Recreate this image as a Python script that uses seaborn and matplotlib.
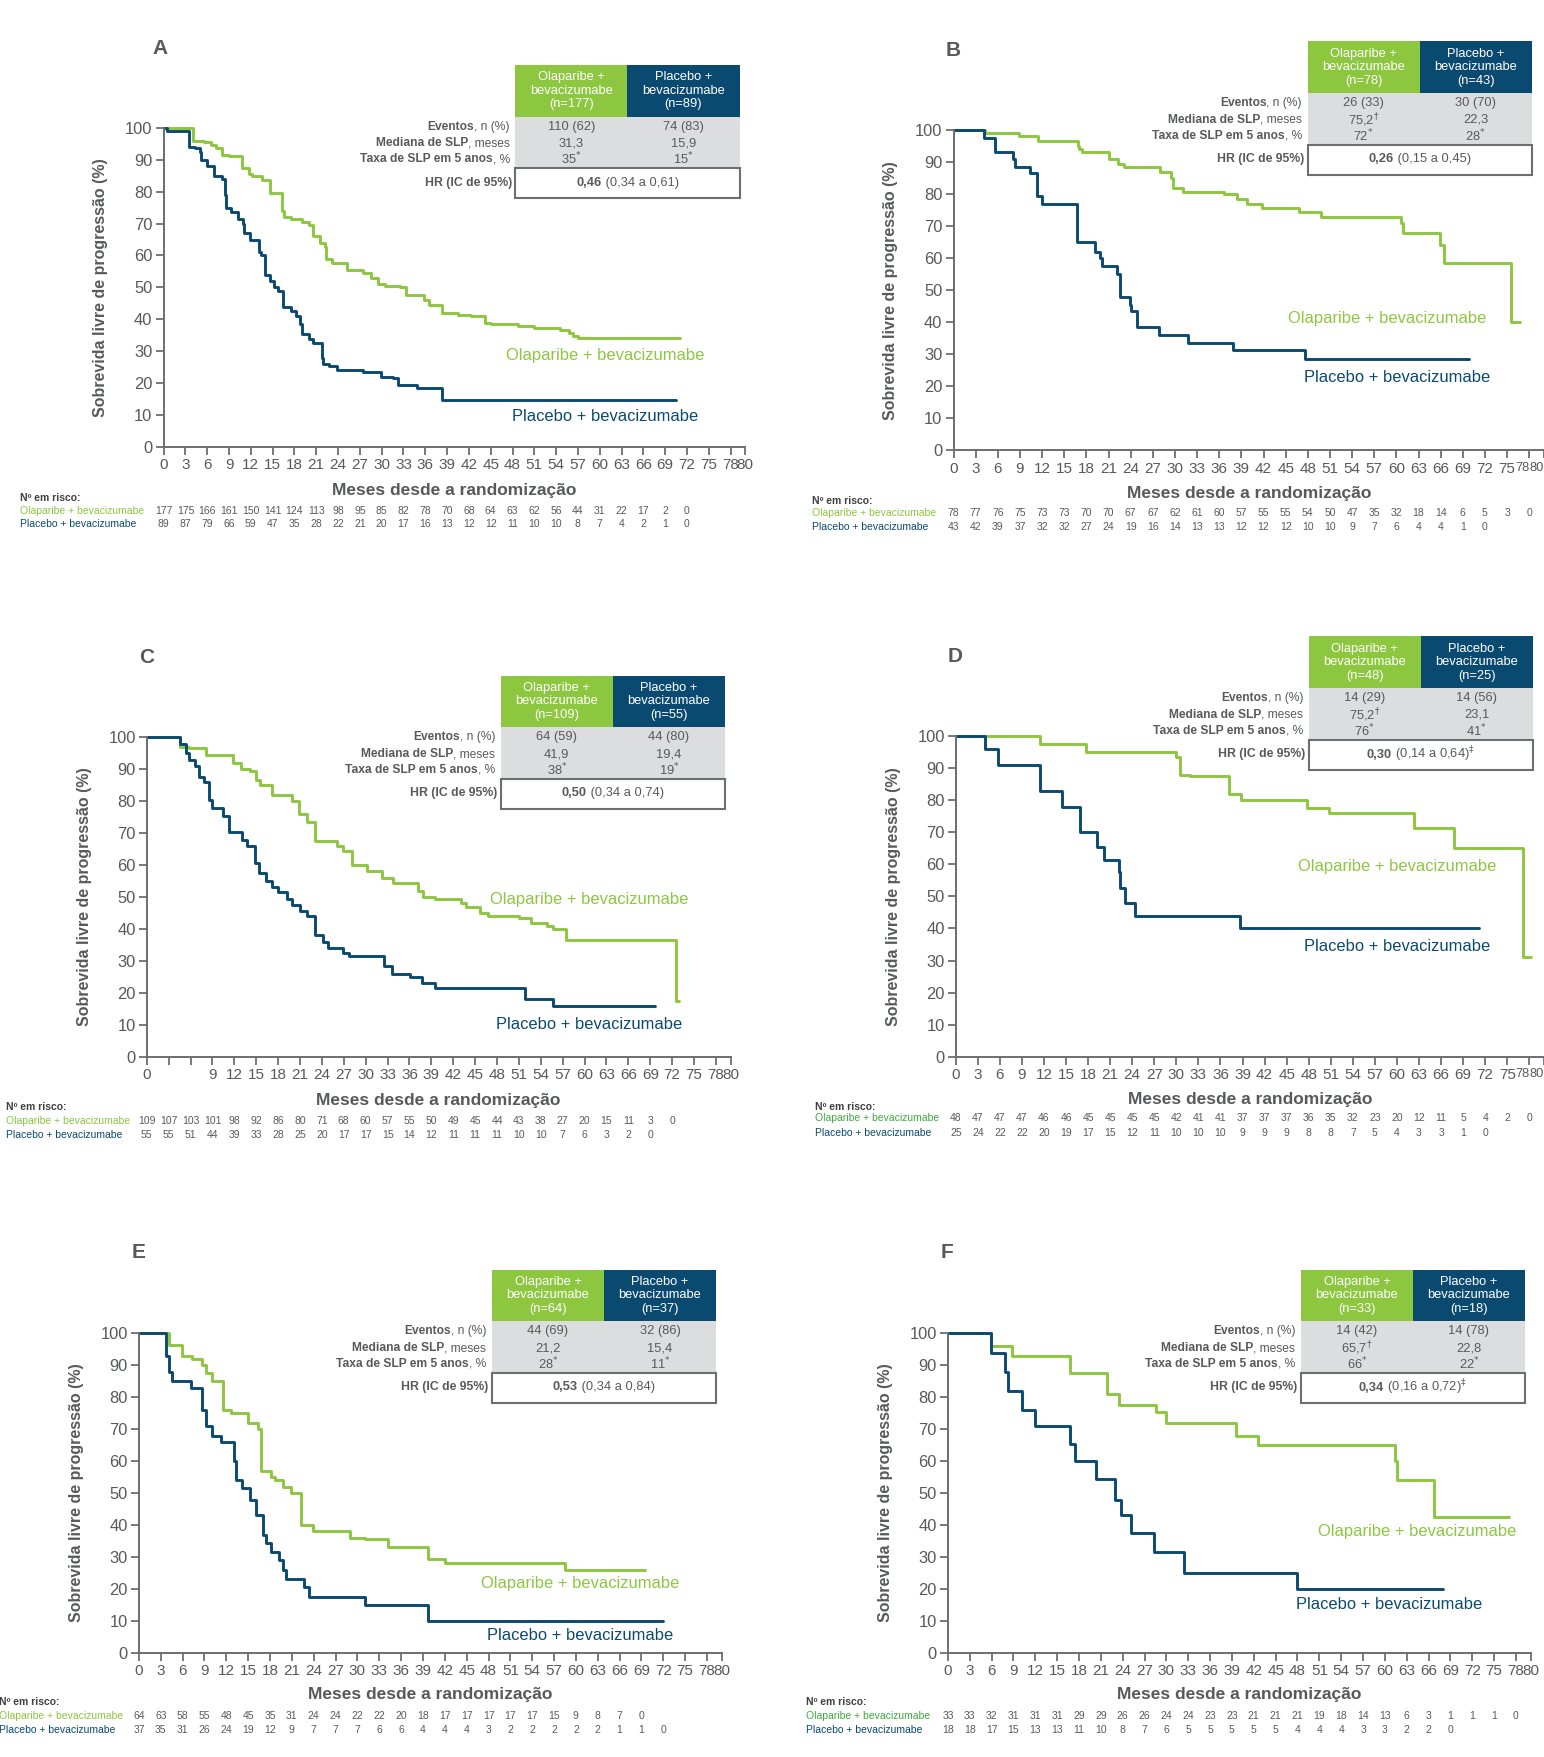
import matplotlib
matplotlib.use("Agg")
import matplotlib.pyplot as plt
import seaborn as sns
from matplotlib import font_manager
from matplotlib.patches import Rectangle
from matplotlib.transforms import blended_transform_factory
from matplotlib.offsetbox import TextArea, HPacker, AnnotationBbox

# ---- curves (months, % progression-free) ----
a_ola_t = [0, 4.0, 5.5, 6.5, 7.2, 8.0, 9.0, 10.8, 11.8, 12.2, 13.5, 14.7, 16.3, 16.5, 17.5, 19.0, 20.0, 20.5, 21.5, 22.2, 22.4, 23.2, 25.3, 27.5, 28.5, 29.5, 30.5, 32.5, 33.3, 35.8, 36.5, 38.3, 40.5, 42.3, 44.2, 45.0, 48.8, 51.0, 54.5, 55.8, 56.3, 57.0, 71.0]
a_ola_s = [100, 96, 95.5, 94.5, 93.5, 91.5, 91, 87.5, 85.5, 85, 83.5, 79.5, 74, 72, 71.5, 70.5, 69.5, 66, 64, 62.5, 59, 57.5, 55.5, 54.5, 53, 51, 50.5, 50, 47.5, 46, 44.5, 42, 41.5, 41, 39, 38.5, 37.8, 37.3, 36.8, 35.8, 34.8, 34.2, 34.2]
a_pla_t = [0, 0.5, 3.5, 4.3, 5.0, 5.2, 6.0, 6.9, 8.1, 8.4, 8.6, 9.3, 10.3, 10.9, 11.0, 11.9, 13.1, 13.4, 13.9, 14.6, 15.2, 15.7, 16.4, 17.5, 18.2, 18.7, 19.1, 20.0, 20.5, 21.8, 21.9, 22.7, 23.9, 27.5, 29.9, 31.6, 32.2, 34.9, 38.3, 70.5]
a_pla_s = [100, 99, 94, 93.5, 92.5, 90, 88, 85, 84, 79, 75, 73.5, 71.5, 70, 67, 65, 61, 60, 54, 52, 50, 49, 44, 42.5, 41, 38.5, 35.5, 34, 32.5, 28, 26, 25.5, 24, 23.5, 22, 21.5, 19.5, 18.5, 14.8, 14.8]

b_ola_t = [0, 4.3, 8.9, 11.4, 16.8, 17.0, 17.4, 21.1, 22.3, 23.1, 28.0, 29.5, 29.7, 31.1, 36.6, 38.4, 39.7, 41.8, 46.8, 49.8, 60.6, 60.9, 65.9, 66.4, 75.5, 76.7]
b_ola_s = [100, 99, 98, 96.5, 95, 94, 93, 91, 89.5, 88.5, 87, 85, 82, 80.5, 80, 78.5, 77, 75.5, 74.5, 73, 71, 68, 64, 58.5, 40, 40]
b_pla_t = [0, 4.1, 5.6, 8.0, 8.3, 10.4, 11.3, 12.0, 16.7, 19.2, 19.8, 20.1, 22.2, 22.5, 23.9, 24.1, 24.8, 27.8, 31.8, 37.9, 47.6, 69.8]
b_pla_s = [100, 97.5, 93, 91, 88.5, 86.5, 79.5, 77, 65, 62, 60, 57.5, 55, 48, 45.5, 43.5, 38.5, 36, 33.5, 31.5, 28.5, 28.5]

c_ola_t = [0, 4.5, 5.8, 8.1, 11.8, 12.9, 14.2, 15.0, 15.5, 17.2, 19.9, 20.9, 22.0, 23.1, 26.1, 26.9, 28.1, 30.2, 32.2, 33.8, 37.2, 37.9, 39.5, 43.1, 43.8, 45.6, 46.8, 51.0, 52.7, 54.9, 55.7, 57.4, 72.5, 72.9]
c_ola_s = [100, 97, 96.5, 94.5, 92, 90, 89.5, 86.5, 85, 82, 80, 76, 73.5, 67.5, 66, 64.5, 60, 58, 56, 54.5, 52, 50, 49.5, 48, 47, 45, 44, 43.5, 42, 41, 40, 36.5, 17.5, 17.5]
c_pla_t = [0, 4.5, 5.4, 5.8, 6.6, 7.1, 7.9, 8.5, 9.0, 10.4, 11.3, 13.1, 13.8, 14.8, 15.4, 16.4, 17.2, 18.0, 19.2, 19.9, 21.0, 22.0, 23.0, 24.1, 24.8, 26.9, 27.7, 32.5, 33.6, 36.1, 37.7, 39.5, 51.8, 55.7, 69.7]
c_pla_s = [100, 98, 95, 93, 91, 87.5, 86, 80.5, 78, 75.5, 70.5, 68, 66, 60.5, 57.5, 55, 53, 51.5, 49.5, 47.5, 45.5, 44, 38, 36, 34, 32.5, 31.5, 28.5, 26, 25, 23, 21.5, 18, 16, 16]

d_ola_t = [0, 11.4, 17.7, 29.9, 30.5, 31.8, 37.2, 38.8, 47.8, 50.8, 62.3, 67.7, 77.1, 78.3]
d_ola_s = [100, 97.5, 95, 93.5, 88, 87.5, 82, 80, 77.5, 76, 71.5, 65, 31, 31]
d_pla_t = [0, 4.0, 5.7, 11.4, 14.5, 16.9, 19.2, 20.1, 22.2, 22.4, 23.0, 24.4, 38.7, 71.1]
d_pla_s = [100, 96, 91, 83, 78, 70, 65.5, 61.5, 57.5, 52.5, 48, 44, 40, 40]

e_ola_t = [0, 4.1, 5.9, 7.3, 8.6, 9.2, 10.0, 11.6, 12.7, 15.0, 16.4, 16.8, 18.1, 18.7, 19.8, 20.9, 22.2, 23.9, 29.0, 31.1, 34.2, 39.7, 42.0, 58.5, 69.5]
e_ola_s = [100, 96.5, 93, 92, 90, 87.5, 85, 76, 75, 72, 70, 57, 55, 54, 52, 50, 40, 38, 36, 35.5, 33, 29.5, 28, 26, 26]
e_pla_t = [0, 3.7, 4.1, 4.5, 7.1, 8.6, 9.2, 10.0, 11.2, 13.0, 13.3, 14.1, 15.3, 16.1, 17.1, 17.5, 18.2, 19.2, 19.8, 20.2, 22.6, 23.3, 31.1, 39.7, 72.0]
e_pla_s = [100, 93, 88, 85, 83, 76, 71, 68, 66, 60, 54, 51.5, 48, 43, 37, 34.5, 31.5, 29, 26, 23, 20.5, 17.5, 15, 9.8, 9.8]

f_ola_t = [0, 5.9, 8.8, 16.7, 21.8, 23.5, 28.6, 29.9, 39.6, 42.6, 61.4, 61.6, 66.7, 77.0]
f_ola_s = [100, 96, 93, 87.5, 81, 77.5, 75.5, 72, 68, 65, 60, 54, 42.5, 42.5]
f_pla_t = [0, 5.9, 7.9, 8.3, 10.2, 12.0, 16.7, 17.4, 20.4, 22.9, 23.8, 25.2, 28.3, 32.4, 48.0, 68.0]
f_pla_s = [100, 94, 88, 82, 76, 71, 65.5, 60, 54.5, 48, 43, 37.5, 31.5, 25, 20, 20]

# ---- numbers at risk (every 3 months) ----
a_risk_ola = [177, 175, 166, 161, 150, 141, 124, 113, 98, 95, 85, 82, 78, 70, 68, 64, 63, 62, 56, 44, 31, 22, 17, 2, 0]
a_risk_pla = [89, 87, 79, 66, 59, 47, 35, 28, 22, 21, 20, 17, 16, 13, 12, 12, 11, 10, 10, 8, 7, 4, 2, 1, 0]
b_risk_ola = [78, 77, 76, 75, 73, 73, 70, 70, 67, 67, 62, 61, 60, 57, 55, 55, 54, 50, 47, 35, 32, 18, 14, 6, 5, 3, 0]
b_risk_pla = [43, 42, 39, 37, 32, 32, 27, 24, 19, 16, 14, 13, 13, 12, 12, 12, 10, 10, 9, 7, 6, 4, 4, 1, 0]
c_risk_ola = [109, 107, 103, 101, 98, 92, 86, 80, 71, 68, 60, 57, 55, 50, 49, 45, 44, 43, 38, 27, 20, 15, 11, 3, 0]
c_risk_pla = [55, 55, 51, 44, 39, 33, 28, 25, 20, 17, 17, 15, 14, 12, 11, 11, 11, 10, 10, 7, 6, 3, 2, 0]
d_risk_ola = [48, 47, 47, 47, 46, 46, 45, 45, 45, 45, 42, 41, 41, 37, 37, 37, 36, 35, 32, 23, 20, 12, 11, 5, 4, 2, 0]
d_risk_pla = [25, 24, 22, 22, 20, 19, 17, 15, 12, 11, 10, 10, 10, 9, 9, 9, 8, 8, 7, 5, 4, 3, 3, 1, 0]
e_risk_ola = [64, 63, 58, 55, 48, 45, 35, 31, 24, 24, 22, 22, 20, 18, 17, 17, 17, 17, 17, 15, 9, 8, 7, 0]
e_risk_pla = [37, 35, 31, 26, 24, 19, 12, 9, 7, 7, 7, 6, 6, 4, 4, 4, 3, 2, 2, 2, 2, 2, 1, 1, 0]
f_risk_ola = [33, 33, 32, 31, 31, 31, 29, 29, 26, 26, 24, 24, 23, 23, 21, 21, 21, 19, 18, 14, 13, 6, 3, 1, 1, 1, 0]
f_risk_pla = [18, 18, 17, 15, 13, 13, 11, 10, 8, 7, 6, 5, 5, 5, 5, 5, 4, 4, 4, 3, 3, 2, 2, 0]

# ---- summary tables ----
n_ola = ["177", "78", "109", "48", "64", "33"]
n_pla = ["89", "43", "55", "25", "37", "18"]
ev_ola = ["110 (62)", "26 (33)", "64 (59)", "14 (29)", "44 (69)", "14 (42)"]
ev_pla = ["74 (83)", "30 (70)", "44 (80)", "14 (56)", "32 (86)", "14 (78)"]
med_ola = ["31,3", r"75,2$^{\dagger}$", "41,9", r"75,2$^{\dagger}$", "21,2", r"65,7$^{\dagger}$"]
med_pla = ["15,9", "22,3", "19,4", "23,1", "15,4", "22,8"]
rate_ola = ["35", "72", "38", "76", "28", "66"]
rate_pla = ["15", "28", "19", "41", "11", "22"]
hr_val = ["0,46", "0,26", "0,50", "0,30", "0,53", "0,34"]
hr_ci = [" (0,34 a 0,61)", " (0,15 a 0,45)", " (0,34 a 0,74)", r" (0,14 a 0,64)$^{\ddagger}$", " (0,34 a 0,84)", r" (0,16 a 0,72)$^{\ddagger}$"]

GREEN = "#8DC63F"
GREEN2 = "#3DAA3A"
NAVY = "#0B4A70"
TXT = "#58595B"
SPINE = "#6D6E71"
GRAY = "#DCDDDE"

sns.set_style("ticks")
names = {f.name for f in font_manager.fontManager.ttflist}
NARROW = "Liberation Sans Narrow" if "Liberation Sans Narrow" in names else "Liberation Sans"
PLAIN = "Liberation Sans"
k = 1.0 if NARROW == "Liberation Sans Narrow" else 0.88
plt.rcParams["font.family"] = [NARROW, "DejaVu Sans"]
plt.rcParams["mathtext.fontset"] = "dejavusans"

# layout frame: positions below are in a 1378 x 1568 grid
W, H = 1378.0, 1568.0
def fx(x):
    return x / W
def fy(y):
    return 1 - y / H

fig = plt.figure(figsize=(15.44, 17.57), dpi=100)

panels = [
    dict(letter="A", ax=(146, 665, 114, 399), lpos=(143, 43), tab=(460, 58), xl=438,
         nr=(18, 444, 456, 468), glab=(60.7, 28.8), nlab=(60.7, 9.5), rg=GREEN,
         ola=(a_ola_t, a_ola_s), pla=(a_pla_t, a_pla_s), risk=(a_risk_ola, a_risk_pla)),
    dict(letter="B", ax=(851, 1378, 116, 402), lpos=(851, 45), tab=(1167, 37), xl=440,
         nr=(725, 447, 458, 470), glab=(58.7, 41.3), nlab=(60.1, 22.7), rg=GREEN,
         ola=(b_ola_t, b_ola_s), pla=(b_pla_t, b_pla_s), risk=(b_risk_ola, b_risk_pla)),
    dict(letter="C", ax=(131, 652, 658, 943), lpos=(131, 587), tab=(447, 603), xl=982,
         nr=(5, 988, 1000, 1013), glab=(60.6, 49.1), nlab=(60.6, 10.2), rg=GREEN,
         ola=(c_ola_t, c_ola_s), pla=(c_pla_t, c_pla_s), risk=(c_risk_ola, c_risk_pla)),
    dict(letter="D", ax=(853, 1378, 657, 943), lpos=(852, 586), tab=(1168, 568), xl=981,
         nr=(727, 988, 998, 1011), glab=(60.0, 59.4), nlab=(60.0, 34.3), rg=GREEN2,
         ola=(d_ola_t, d_ola_s), pla=(d_pla_t, d_pla_s), risk=(d_risk_ola, d_risk_pla)),
    dict(letter="E", ax=(124, 644, 1190, 1475), lpos=(124, 1118), tab=(439, 1133), xl=1512,
         nr=(-1, 1519, 1531, 1544), glab=(60.6, 21.8), nlab=(60.6, 5.3), rg=GREEN,
         ola=(e_ola_t, e_ola_s), pla=(e_pla_t, e_pla_s), risk=(e_risk_ola, e_risk_pla)),
    dict(letter="F", ax=(846, 1366, 1190, 1475), lpos=(845, 1118), tab=(1161, 1133), xl=1512,
         nr=(719, 1519, 1531, 1544), glab=(64.5, 37.9), nlab=(60.6, 15.1), rg=GREEN2,
         ola=(f_ola_t, f_ola_s), pla=(f_pla_t, f_pla_s), risk=(f_risk_ola, f_risk_pla)),
]

xt = list(range(0, 79, 3)) + [80]


def mixed(parts, x, y, align, size):
    boxes = [TextArea(s, textprops=dict(fontsize=size, color=TXT, fontweight=w, family=f))
             for s, w, f in parts]
    ab = AnnotationBbox(HPacker(children=boxes, align="baseline", pad=0, sep=0),
                        (fx(x), fy(y)), xycoords="figure fraction",
                        box_alignment=(align, 0.5), frameon=False, pad=0)
    fig.add_artist(ab)


for i, p in enumerate(panels):
    x0, x80, y100, y0 = p["ax"]
    ax = fig.add_axes([fx(x0), fy(y0), (x80 - x0) / W, (y0 - y100) / H])
    sns.lineplot(x=p["ola"][0], y=p["ola"][1], ax=ax, color=GREEN, lw=2.1,
                 drawstyle="steps-post", estimator=None, sort=False, clip_on=False)
    sns.lineplot(x=p["pla"][0], y=p["pla"][1], ax=ax, color=NAVY, lw=2.1,
                 drawstyle="steps-post", estimator=None, sort=False, clip_on=False)
    ax.set_xlim(0, 80)
    ax.set_ylim(0, 100)
    ax.set_xticks(xt)
    labs = [str(v) for v in xt]
    if p["letter"] == "C":
        labs[1] = ""
        labs[2] = ""
    ax.set_xticklabels(labs)
    ax.set_yticks(range(0, 101, 10))
    sns.despine(ax=ax)
    for s in ["left", "bottom"]:
        ax.spines[s].set_color(SPINE)
        ax.spines[s].set_linewidth(1.4)
    ax.tick_params(direction="out", length=6, width=1.3, color=SPINE, labelcolor=TXT, pad=2)
    ax.tick_params(axis="x", labelsize=12.5 * k)
    ax.tick_params(axis="y", labelsize=13.5 * k)
    if x80 >= W:
        # last labels sit on the figure edge: pull them inside
        for lab in ax.get_xticklabels()[-2:]:
            lab.set_ha("right")
            lab.set_fontsize(10.5 * k)
    ax.set_ylabel("Sobrevida livre de progressão (%)", family=PLAIN, fontweight="bold",
                  fontsize=11.5, color=TXT, va="center")
    ax.yaxis.set_label_coords(-56 / (x80 - x0), 0.5)
    ax.set_xlabel("Meses desde a randomização", family=PLAIN, fontweight="bold",
                  fontsize=12.5, color=TXT, va="center")
    ax.xaxis.set_label_coords(0.5, (y0 - p["xl"]) / (y0 - y100))

    ax.text(*p["glab"], "Olaparibe + bevacizumabe", color=GREEN, fontsize=13.5 * k,
            ha="center", va="center")
    ax.text(*p["nlab"], "Placebo + bevacizumabe", color=NAVY, fontsize=13.5 * k,
            ha="center", va="center")

    # panel letter
    lx, ly = p["lpos"]
    fig.text(fx(lx), fy(ly), p["letter"], family=PLAIN, fontweight="bold", fontsize=15,
             color=TXT, ha="center", va="center")

    # numbers at risk
    nx, ny, r1, r2 = p["nr"]
    fig.text(fx(nx), fy(ny), "Nº em risco:", family=PLAIN, fontweight="bold", fontsize=7.5,
             color="#404041", va="center")
    fig.text(fx(nx), fy(r1), "Olaparibe + bevacizumabe", color=p["rg"], fontsize=8.5 * k,
             va="center")
    fig.text(fx(nx), fy(r2), "Placebo + bevacizumabe", color=NAVY, fontsize=8.5 * k,
             va="center")
    tr = blended_transform_factory(ax.transData, fig.transFigure)
    for row, yy in zip(p["risk"], (r1, r2)):
        for j, v in enumerate(row):
            ax.text(3 * j, fy(yy), str(v), transform=tr, ha="center", va="center",
                    fontsize=8.5 * k, color=TXT, clip_on=False)

    # summary table
    tx, ty = p["tab"]
    fig.add_artist(Rectangle((fx(tx), fy(ty + 46)), 100 / W, 46 / H, transform=fig.transFigure,
                             facecolor=GREEN, edgecolor="none"))
    fig.add_artist(Rectangle((fx(tx + 100), fy(ty + 46)), 100 / W, 46 / H, transform=fig.transFigure,
                             facecolor=NAVY, edgecolor="none"))
    fig.add_artist(Rectangle((fx(tx), fy(ty + 92)), 200 / W, 46 / H, transform=fig.transFigure,
                             facecolor=GRAY, edgecolor="none"))
    fig.add_artist(Rectangle((fx(tx), fy(ty + 119)), 200 / W, 27 / H, transform=fig.transFigure,
                             facecolor="white", edgecolor=SPINE, lw=1.5))
    fig.text(fx(tx + 50), fy(ty + 23), "Olaparibe +\nbevacizumabe\n(n=%s)" % n_ola[i],
             color="white", fontsize=10.5 * k, ha="center", va="center", linespacing=1.15)
    fig.text(fx(tx + 150), fy(ty + 23), "Placebo +\nbevacizumabe\n(n=%s)" % n_pla[i],
             color="white", fontsize=10.5 * k, ha="center", va="center", linespacing=1.15)
    vals = [(ev_ola[i], ev_pla[i]), (med_ola[i], med_pla[i]),
            (rate_ola[i] + r"$^{*}$", rate_pla[i] + r"$^{*}$")]
    heads = [("Eventos", ", n (%)"), ("Mediana de SLP", ", meses"),
             ("Taxa de SLP em 5 anos", ", %")]
    for (vo, vp), (hb, hr), dy in zip(vals, heads, (55, 70, 84)):
        fig.text(fx(tx + 50), fy(ty + dy), vo, color=TXT, fontsize=10.5 * k, ha="center", va="center")
        fig.text(fx(tx + 150), fy(ty + dy), vp, color=TXT, fontsize=10.5 * k, ha="center", va="center")
        mixed([(hb, "bold", NARROW), (hr, "normal", NARROW)], tx - 5, ty + dy, 1, 9.8 * k)
    fig.text(fx(tx - 3), fy(ty + 105), "HR (IC de 95%)", color=TXT, fontsize=10 * k,
             fontweight="bold", ha="right", va="center")
    mixed([(hr_val[i], "bold", NARROW), (hr_ci[i], "normal", NARROW)], tx + 100, ty + 105, 0.5, 10.5 * k)

fig.savefig("out.png", dpi=100, facecolor="white")
